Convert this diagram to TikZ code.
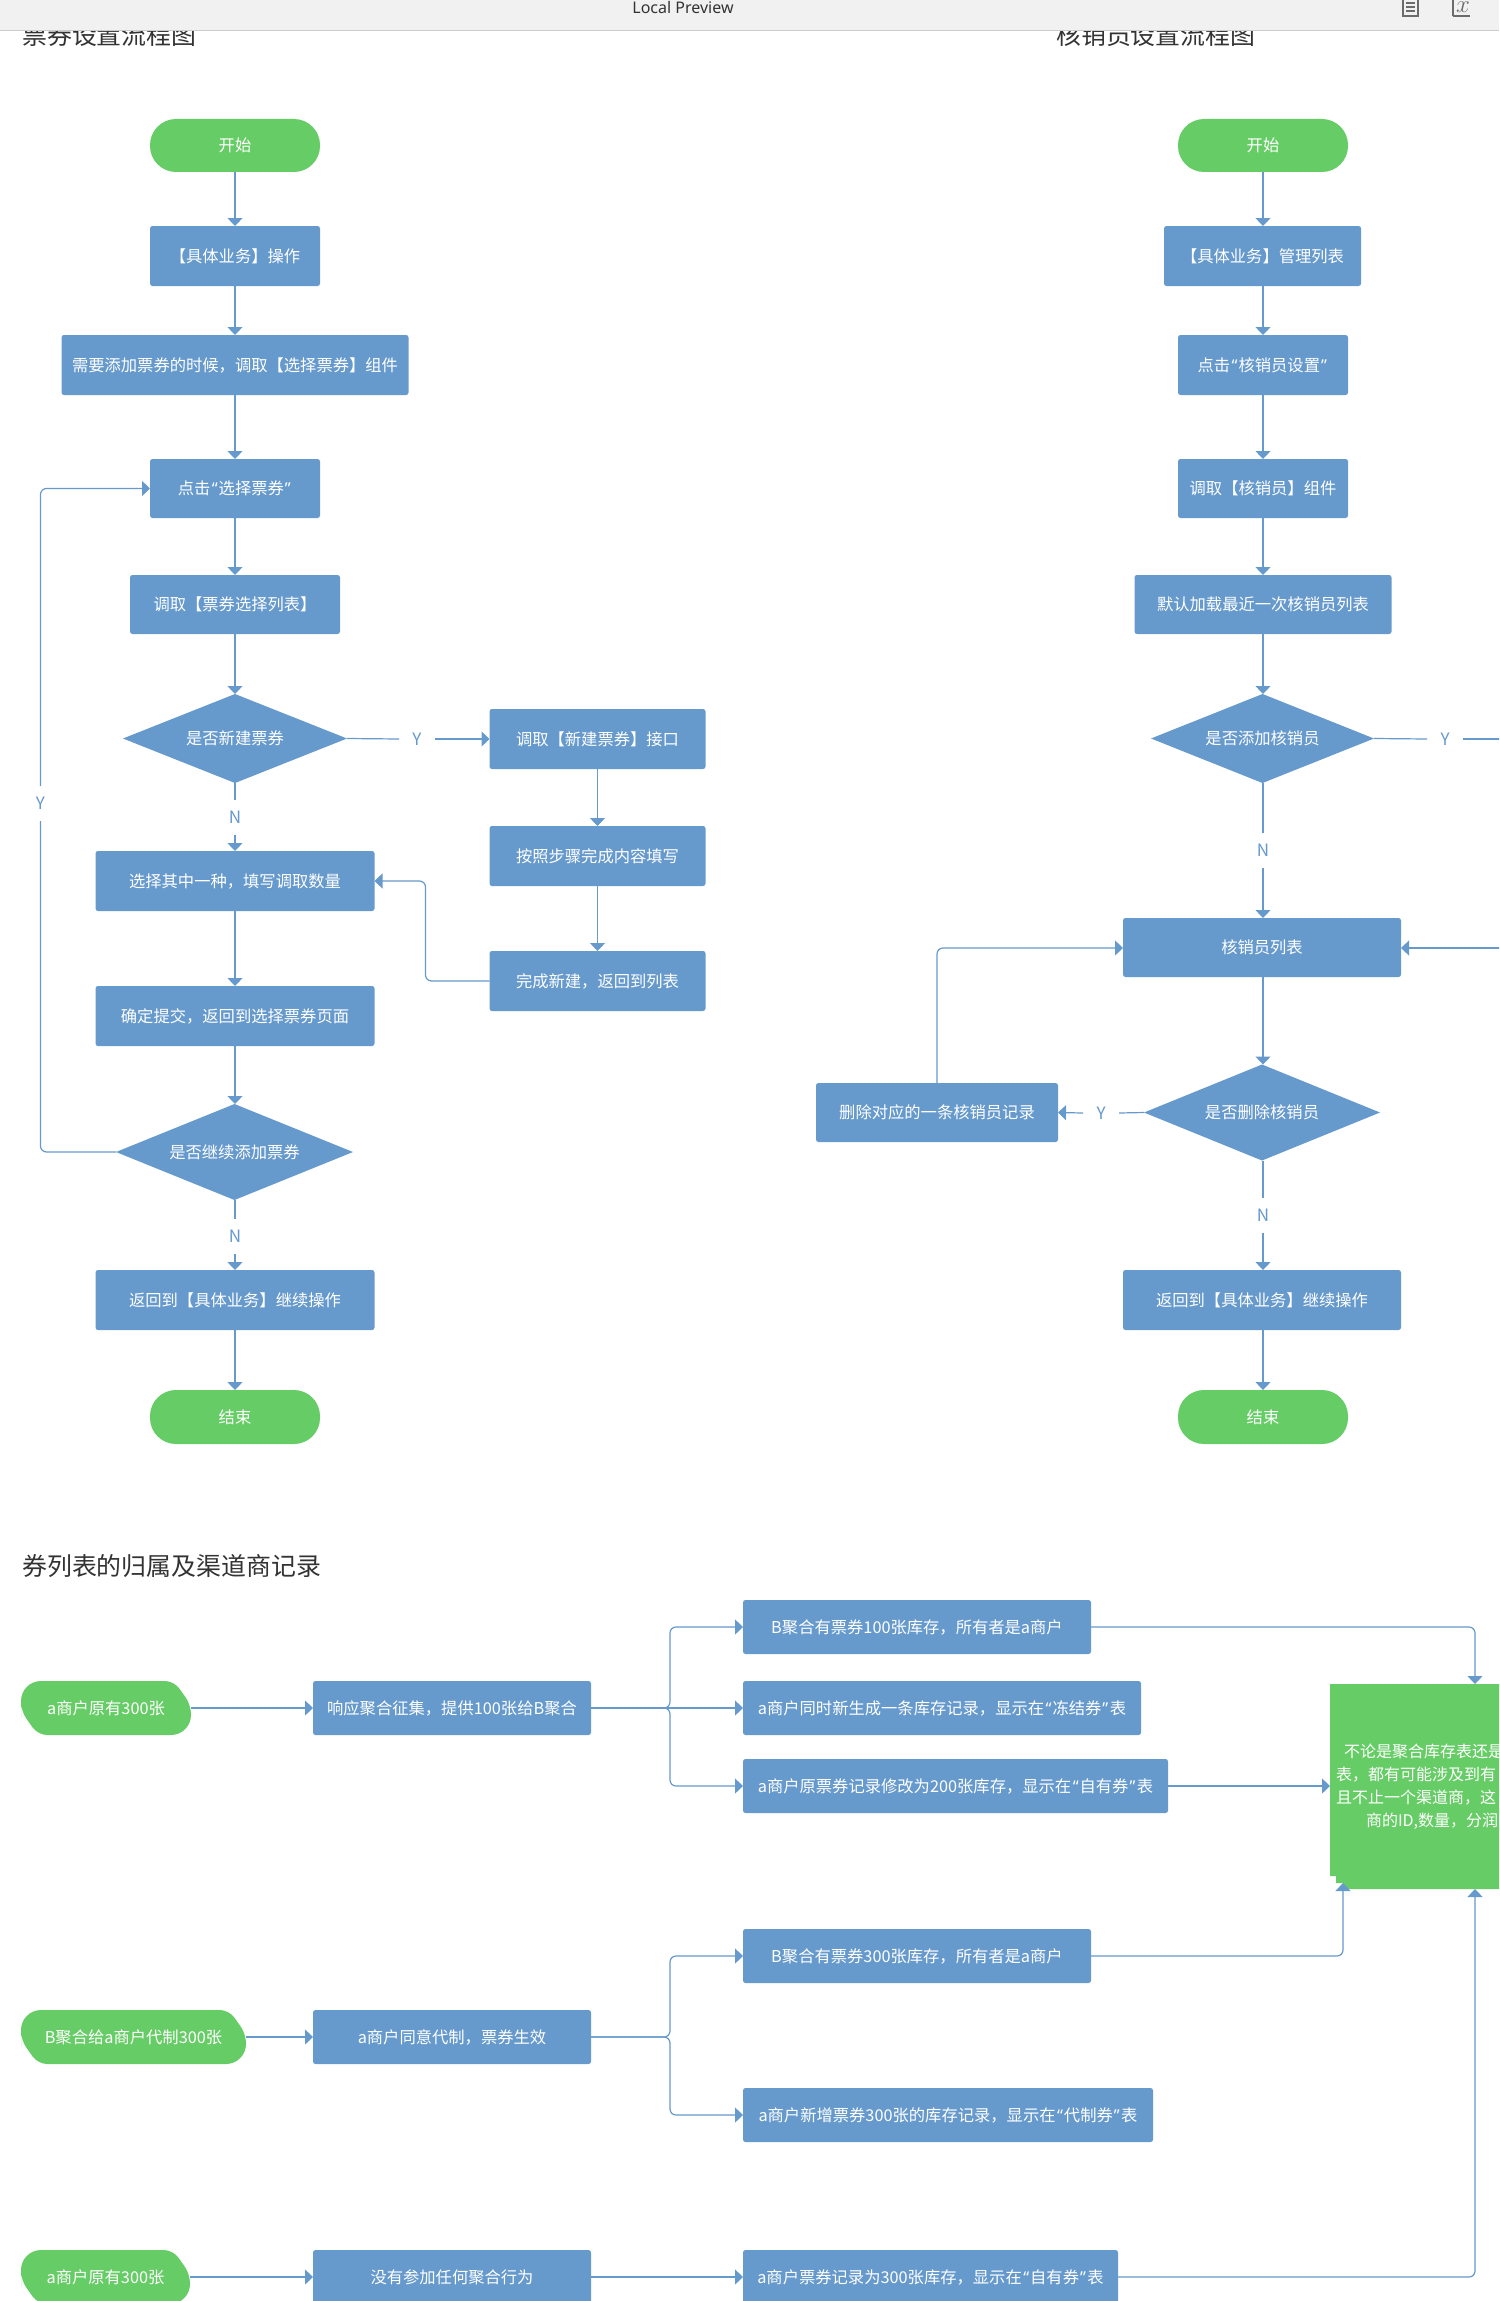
\documentclass[tikz,border=0pt]{standalone}
\usepackage{fontspec}
\setmainfont{Noto Sans CJK SC}
\newfontfamily\uifont{Noto Sans}
\newfontfamily\qfont{Noto Sans}
\newcommand{\ql}{\kern1.5pt{\qfont “}\kern1pt}
\newcommand{\qr}{\kern1pt{\qfont ”}\kern1.5pt}
\usetikzlibrary{arrows.meta,shapes.geometric,calc}
\definecolor{bluebox}{HTML}{6699CC}
\definecolor{greenbox}{HTML}{66CC66}
\tikzset{
  base/.style={inner sep=0pt,outer sep=0pt,text=white,font=\fontsize{16.3}{20}\selectfont,align=center},
  cen/.style={text height=14pt,text depth=2pt},
  bx/.style={base,cen,fill=bluebox,rounded corners=2.5pt},
  pill/.style={base,cen,fill=greenbox,rounded corners=26pt},
  dia/.style={base,diamond,fill=bluebox},
  lab/.style={inner sep=0pt,outer sep=0pt,text=bluebox,font=\fontsize{17}{20}\selectfont,minimum width=36pt,minimum height=35pt},
  ttl/.style={inner sep=0pt,anchor=west,text=black!80,font=\fontsize{24.9}{28}\selectfont},
  conn/.style={draw=bluebox,line width=1.2pt,rounded corners=6pt,-{Triangle[length=8pt,width=15pt]}},
  seg/.style={draw=bluebox,line width=1.2pt,rounded corners=6pt}
}
% #1 name, #2 x1, #3 y1, #4 x2, #5 y2, #6 text
\newcommand{\chamferpill}[6]{%
  \pgfmathsetmacro{\pw}{#4-#2}%
  \fill[greenbox,rounded corners=20pt] (#2,#3+28) -- (#2,#3) [rounded corners=9pt] -- (#4-17,#3) -- (#4,#3+24) [rounded corners=20pt] -- (#4,#5) [rounded corners=9pt] -- (#2+17,#5) -- (#2,#5-24) -- cycle;
  \path (#2,#3) -- node[base,cen,minimum width=\pw pt] (#1) {#6} (#4,#5);
}
\begin{document}
\begin{tikzpicture}[x=1pt,y=-1pt]
\useasboundingbox (0,0) rectangle (1499,2301);
\clip (0,0) rectangle (1499,2301);
\fill[white] (0,0) rectangle (1499,2301);

% titles (cut by the bar)
\node[ttl] (t1) at (22,35) {票券设置流程图};
\node[ttl] (t2) at (1056,35) {核销员设置流程图};
\node[ttl] (t3) at (22,1566) {券列表的归属及渠道商记录};

% top bar
\fill[black!5.5] (0,0) rectangle (1499,30);
\draw[black!20,line width=1pt] (0,30.5) -- (1499,30.5);
\node[inner sep=0pt,anchor=base,text=black!80,font=\uifont\fontsize{16}{18}\selectfont] (lp) at (683,13.5) {Local Preview};
\draw[black!58,line width=2pt] (1403,-2) rectangle (1418,16.5);
\draw[black!58,line width=1.6pt] (1406,3) -- (1415,3) (1406,7) -- (1415,7) (1406,11) -- (1415,11);
\draw[black!58,line width=2pt] (1453,16.5) -- (1453,-2) (1453,16.5) -- (1470,16.5);
\node[inner sep=0pt,text=black!58,font=\fontsize{26}{26}\selectfont] (ic) at (1463,7.5) {$x$};

%% left flow
\node[pill,minimum width=170pt,minimum height=53pt] (ls) at (235,145.5) {开始};
\node[bx,minimum width=170pt,minimum height=60pt] (l1) at (235,256) {【具体业务】操作};
\node[bx,minimum width=347pt,minimum height=60pt] (l2) at (235,365) {需要添加票券的时候，调取【选择票券】组件};
\node[bx,minimum width=170pt,minimum height=59pt] (l3) at (235,488.5) {点击\ql 选择票券\qr};
\node[bx,minimum width=210pt,minimum height=59pt] (l4) at (235,604.5) {调取【票券选择列表】};
\node[dia,minimum width=224pt,minimum height=89pt,shape aspect=2.517] (ld1) at (235,738.5) {是否新建票券};
\node[lab] (ly1) at (417,739) {Y};
\node[lab] (ln1) at (235,817.5) {N};
\node[bx,minimum width=279pt,minimum height=60pt] (l5) at (235,881) {选择其中一种，填写调取数量};
\node[bx,minimum width=279pt,minimum height=60pt] (l6) at (235,1016) {确定提交，返回到选择票券页面};
\node[dia,minimum width=237pt,minimum height=96pt,shape aspect=2.469] (ld2) at (234.5,1152) {是否继续添加票券};
\node[lab] (ln2) at (235,1236) {N};
\node[lab] (ly2) at (40.5,803.5) {Y};
\node[bx,minimum width=279pt,minimum height=60pt] (l7) at (235,1300) {返回到【具体业务】继续操作};
\node[pill,minimum width=170pt,minimum height=54pt] (le) at (235,1417) {结束};
\node[bx,minimum width=216pt,minimum height=60pt] (n1) at (597.5,739) {调取【新建票券】接口};
\node[bx,minimum width=216pt,minimum height=60pt] (n2) at (597.5,856) {按照步骤完成内容填写};
\node[bx,minimum width=216pt,minimum height=60pt] (n3) at (597.5,981) {完成新建，返回到列表};

\draw[conn] (ls) -- (l1);
\draw[conn] (l1) -- (l2);
\draw[conn] (l2) -- (l3);
\draw[conn] (l3) -- (l4);
\draw[conn] (l4) -- (ld1);
\draw[seg] (ld1.east) -- (ly1.west);
\draw[conn] (ly1.east) -- (n1.west);
\draw[seg] (ld1.south) -- (ln1.north);
\draw[conn] (ln1.south) -- (l5.north);
\draw[conn] (l5) -- (l6);
\draw[conn] (l6) -- (l6.south |- ld2.north);
\draw[seg] (ln2.north |- ld2.south) -- (ln2.north);
\draw[conn] (ln2.south) -- (l7.north);
\draw[conn] (l7) -- (le);
\draw[conn] (n1) -- (n2);
\draw[conn] (n2) -- (n3);
\draw[conn] (n3.west) -- ++(-64,0) |- (l5.east);
\draw[seg] (ld2.west) -| (ly2.south);
\draw[conn] (ly2.north) |- (l3.west);

%% right flow
\node[pill,minimum width=170pt,minimum height=53pt] (rs) at (1263,145.5) {开始};
\node[bx,minimum width=197pt,minimum height=60pt] (r1) at (1262.5,256) {【具体业务】管理列表};
\node[bx,minimum width=170pt,minimum height=60pt] (r2) at (1263,365) {点击\ql 核销员设置\qr};
\node[bx,minimum width=170pt,minimum height=59pt] (r3) at (1263,488.5) {调取【核销员】组件};
\node[bx,minimum width=257pt,minimum height=59pt] (r4) at (1263,604.5) {默认加载最近一次核销员列表};
\node[dia,minimum width=223pt,minimum height=89pt,shape aspect=2.506] (rd1) at (1262.5,738.5) {是否添加核销员};
\node[lab] (ry1) at (1445,739) {Y};
\coordinate (ro1) at (1510,739);
\node[lab] (rn1) at (1263,850) {N};
\node[bx,minimum width=278pt,minimum height=59pt] (r5) at (1262,947.5) {核销员列表};
\coordinate (ro2) at (1510,948);
\node[dia,minimum width=236pt,minimum height=96pt,shape aspect=2.458] (rd2) at (1262,1112.5) {是否删除核销员};
\node[lab] (ry2) at (1101,1113) {Y};
\node[bx,minimum width=242pt,minimum height=59pt] (r6) at (937,1112.5) {删除对应的一条核销员记录};
\node[lab] (rn2) at (1263,1215) {N};
\node[bx,minimum width=278pt,minimum height=60pt] (r7) at (1262,1300) {返回到【具体业务】继续操作};
\node[pill,minimum width=170pt,minimum height=54pt] (re) at (1263,1417) {结束};

\draw[conn] (rs) -- (rs.south |- r1.north);
\draw[conn] (rs.south |- r1.south) -- (r2);
\draw[conn] (r2) -- (r3);
\draw[conn] (r3) -- (r4);
\draw[conn] (r4) -- (r4.south |- rd1.north);
\draw[seg] (rd1.east) -- (ry1.west);
\draw[seg] (ry1.east) -- (ro1);
\draw[seg] (rn1.north |- rd1.south) -- (rn1.north);
\draw[conn] (rn1.south) -- (rn1.south |- r5.north);
\draw[conn] (ro2) -- (ro2 -| r5.east);
\draw[conn] (rn1.south |- r5.south) -- (rn1.south |- rd2.north);
\draw[seg] (rd2.west) -- (ry2.east);
\draw[conn] (ry2.west) -- (r6.east);
\draw[conn] (r6.north) |- (ro2 -| r5.west);
\draw[seg] (rn2.north |- rd2.south) -- (rn2.north);
\draw[conn] (rn2.south) -- (rn2.south |- r7.north);
\draw[conn] (rn2.south |- r7.south) -- (re);

%% lower section
\chamferpill{p1}{21}{1681}{191}{1735}{a商户原有300张}
\chamferpill{p2}{21}{2010}{246}{2064}{B聚合给a商户代制300张}
\chamferpill{p3}{21}{2250}{190}{2304}{a商户原有300张}
\node[bx,minimum width=278pt,minimum height=54pt] (a1) at (452,1708) {响应聚合征集，提供100张给B聚合};
\node[bx,minimum width=278pt,minimum height=54pt] (a2) at (452,2037) {a商户同意代制，票券生效};
\node[bx,minimum width=278pt,minimum height=54pt] (a3) at (452,2277) {没有参加任何聚合行为};
\node[bx,minimum width=348pt,minimum height=54pt] (c1) at (917,1627) {B聚合有票券100张库存，所有者是a商户};
\node[bx,minimum width=398pt,minimum height=54pt] (c2) at (942,1708) {a商户同时新生成一条库存记录，显示在\ql 冻结券\qr 表};
\node[bx,minimum width=425pt,minimum height=54pt] (c3) at (955.5,1786) {a商户原票券记录修改为200张库存，显示在\ql 自有券\qr 表};
\node[bx,minimum width=348pt,minimum height=54pt] (c4) at (917,1956) {B聚合有票券300张库存，所有者是a商户};
\node[bx,minimum width=410pt,minimum height=54pt] (c5) at (948,2115) {a商户新增票券300张的库存记录，显示在\ql 代制券\qr 表};
\node[bx,minimum width=375pt,minimum height=54pt] (c6) at (930.5,2277) {a商户票券记录为300张库存，显示在\ql 自有券\qr 表};

% note box with its stepped corner
\fill[greenbox] (1330,1684) -- (1510,1684) -- (1510,1889) -- (1343,1889) -- (1343,1883) -- (1336,1883) -- (1336,1876) -- (1330,1876) -- cycle;
\coordinate (ntop) at (1475,1684);
\coordinate (nleft) at (1330,1786);
\coordinate (nbot1) at (1343,1883);
\coordinate (nbot2) at (1475,1889);
\node[base,anchor=west,align=left,font=\fontsize{16}{23}\selectfont] (ntext) at (1336,1786.5) {\hspace*{8pt}不论是聚合库存表还是\\表，都有可能涉及到有\\且不止一个渠道商，这\\\hspace*{30pt}商的ID,数量，分润};

\draw[conn] (p1.east) -- (a1.west);
\draw[conn] (a1.east) -- (c2.west);
\draw[conn] (a1.east) -- ++(79,0) |- (c1.west);
\draw[conn] (a1.east) -- ++(79,0) |- (c3.west);
\draw[conn] (c1.east) -| (ntop);
\draw[conn] (c3.east) -- (nleft);
\draw[conn] (c4.east) -| (nbot1);
\draw[conn] (c6.east) -| (nbot2);
\draw[conn] (p2.east) -- (a2.west);
\draw[conn] (a2.east) -- ++(79,0) |- (c4.west);
\draw[conn] (a2.east) -- ++(79,0) |- (c5.west);
\draw[conn] (p3.east) -- (a3.west);
\draw[conn] (a3.east) -- (c6.west);
\end{tikzpicture}
\end{document}
